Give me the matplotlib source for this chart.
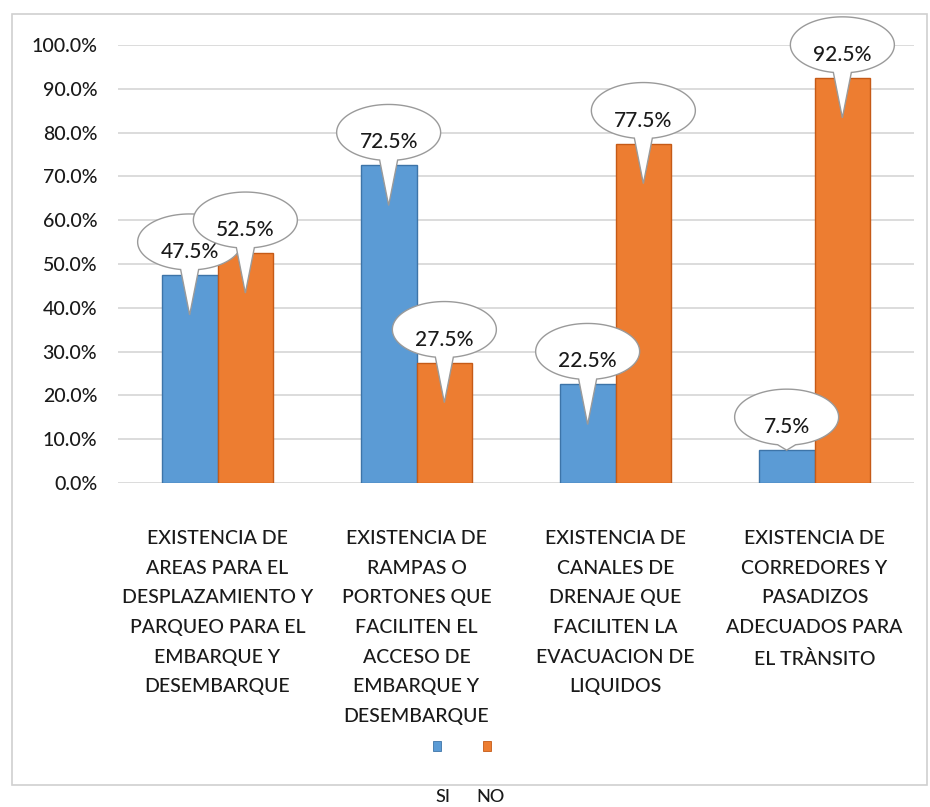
import matplotlib
matplotlib.use("Agg")
import matplotlib.pyplot as plt
import matplotlib.transforms as mtransforms
from matplotlib.patches import Polygon, Rectangle
import numpy as np

# survey results, percent of respondents
categories = [
    "EXISTENCIA DE\nAREAS PARA EL\nDESPLAZAMIENTO Y\nPARQUEO PARA EL\nEMBARQUE Y\nDESEMBARQUE",
    "EXISTENCIA DE\nRAMPAS O\nPORTONES QUE\nFACILITEN EL\nACCESO DE\nEMBARQUE Y\nDESEMBARQUE",
    "EXISTENCIA DE\nCANALES DE\nDRENAJE QUE\nFACILITEN LA\nEVACUACION DE\nLIQUIDOS",
    "EXISTENCIA DE\nCORREDORES Y\nPASADIZOS\nADECUADOS PARA\nEL TRÀNSITO",
]
si_values = [47.5, 72.5, 22.5, 7.5]
no_values = [52.5, 27.5, 77.5, 92.5]
series_names = ["SI", "NO"]
y_ticks = [0, 10, 20, 30, 40, 50, 60, 70, 80, 90, 100]

BLUE = "#5b9bd5"
BLUE_EDGE = "#3d74a8"
ORANGE = "#ed7d31"
ORANGE_EDGE = "#c55a17"
TEXT = "#1a1a1a"

plt.rcParams['font.family'] = ['Lato', 'DejaVu Sans']
plt.rcParams['font.weight'] = 'medium'

W, H = 930, 807
fig = plt.figure(figsize=(W / 100, H / 100), dpi=100)
ax = fig.add_axes([118 / W, (H - 483) / H, 796 / W, 438 / H])

x = np.arange(len(categories))
w = 0.28
ax.bar(x - w / 2, si_values, w, color=BLUE, edgecolor=BLUE_EDGE, linewidth=1, zorder=3)
ax.bar(x + w / 2, no_values, w, color=ORANGE, edgecolor=ORANGE_EDGE, linewidth=1, zorder=3)

ax.set_xlim(-0.5, len(categories) - 0.5)
ax.set_ylim(0, 100)
ax.set_yticks(y_ticks)
ax.set_yticklabels([f"{t:.1f}%" for t in y_ticks])
ax.yaxis.grid(True, color="#d9d9d9", lw=1.3)
ax.set_axisbelow(True)
for s in ax.spines.values():
    s.set_visible(False)
ax.tick_params(axis='y', length=0, pad=15, labelsize=14, labelcolor=TEXT)
ax.set_xticks(x)
ax.set_xticklabels(categories)
ax.tick_params(axis='x', length=0, pad=34, labelsize=14, labelcolor=TEXT)
for lbl in ax.get_xticklabels():
    lbl.set_linespacing(1.9)


def callout(xc, val, text, z):
    # speech balloon: ellipse above the bar top with a tail pointing down into the bar
    a, b, cy, half = 52, 28, 33, 9
    depth = 40 if val > 20 else 0
    t0 = np.arccos(half / a)
    th = np.linspace(-t0, np.pi + t0, 150)
    pts = np.column_stack([a * np.cos(th), cy + b * np.sin(th)])
    pts = np.vstack([pts, [0, -depth]]) / 100.0
    trans = fig.dpi_scale_trans + mtransforms.ScaledTranslation(xc, val, ax.transData)
    ax.add_patch(Polygon(pts, closed=True, facecolor="white", edgecolor="#9a9a9a",
                         lw=1, transform=trans, clip_on=False, zorder=z))
    ax.annotate(text, xy=(xc, val), xytext=(0, 23 * 0.72), textcoords="offset points",
                ha="center", va="center", fontsize=15, color=TEXT,
                zorder=z + 1, annotation_clip=False)


z = 5
for xi, v in zip(x - w / 2, si_values):
    callout(xi, v, f"{v:.1f}%", z)
    z += 2
for xi, v in zip(x + w / 2, no_values):
    callout(xi, v, f"{v:.1f}%", z)
    z += 2

# legend keys inside the frame, names below it
for xpix, col, edge, name, tx in [(433, BLUE, BLUE_EDGE, series_names[0], 443),
                                  (483, ORANGE, ORANGE_EDGE, series_names[1], 490)]:
    fig.add_artist(Rectangle((xpix / W, 1 - 751 / H), 8 / W, 10 / H, facecolor=col,
                             edgecolor=edge, lw=0.6, transform=fig.transFigure))
    fig.text(tx / W, 1 - 797 / H, name, ha="center", va="center", fontsize=13, color=TEXT)

fig.add_artist(Rectangle((12 / W, 1 - 785 / H), 915 / W, 771 / H, fill=False,
                         edgecolor="#d0d0d0", lw=1.2, transform=fig.transFigure))

fig.savefig("out.png", dpi=100)
